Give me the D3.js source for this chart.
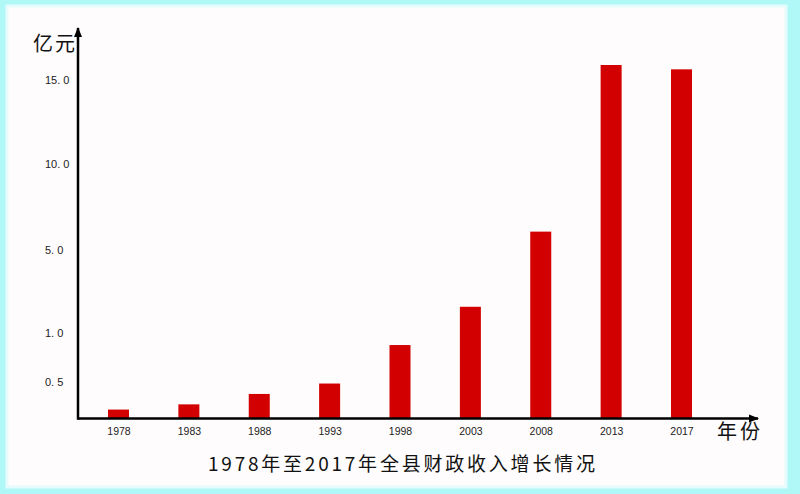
<!DOCTYPE html>
<html>
<head>
<meta charset="utf-8">
<script src="https://cdn.jsdelivr.net/npm/d3@7/dist/d3.min.js"></script>
<style>
  html, body { margin: 0; padding: 0; background: #b0f8f8; }
  svg { display: block; }
</style>
</head>
<body>
<svg id="chart" width="800" height="494"></svg>
<script>
// ---- data ----
const years = ["1978", "1983", "1988", "1993", "1998", "2003", "2008", "2013", "2017"];
const revenue = [0.12, 0.19, 0.33, 0.47, 0.87, 2.24, 6.06, 15.9, 15.64]; // 亿元
const yTickValues = [0.5, 1, 5, 10, 15];
const yTickLabels = ["0. 5", "1. 0", "5. 0", "10. 0", "15. 0"];
const yUnit = "亿元";
const xUnit = "年份";
const title = "1978年至2017年全县财政收入增长情况";

// ---- layout ----
const W = 800, H = 494;
const svg = d3.select("#chart");
const cjk = "'Noto Sans CJK SC', 'Noto Sans', sans-serif";
const latin = "'Liberation Sans', Arial, sans-serif";

// outer cyan frame + inner panel
svg.append("rect").attr("x", 0).attr("y", 0).attr("width", W).attr("height", H).attr("fill", "#b0f8f8");
svg.append("rect").attr("x", 7).attr("y", 6).attr("width", 779).attr("height", 481)
  .attr("fill", "#fefcfc").attr("stroke", "#e6fbfb").attr("stroke-width", 3);

const x0 = 78, baseY = 418.5;

// x: point scale over categories
const x = d3.scalePoint().domain(years).range([118.5, 681.5]);
const barW = 21;

// y: piecewise (non-uniform) axis as drawn in the original
const y = d3.scaleLinear()
  .domain([0, 0.5, 1, 5, 10, 15])
  .range([baseY, 381.3, 332.3, 250, 163.3, 80]);

const data = years.map((yr, i) => ({ year: yr, value: revenue[i] }));

// bars
svg.append("g").selectAll("rect").data(data).enter().append("rect")
  .attr("x", d => x(d.year) - barW / 2)
  .attr("y", d => y(d.value))
  .attr("width", barW)
  .attr("height", d => y(0) - y(d.value))
  .attr("fill", "#d20000");

// arrow marker
const defs = svg.append("defs");
defs.append("marker").attr("id", "arrow")
  .attr("viewBox", "0 0 10 10").attr("refX", 9).attr("refY", 5)
  .attr("markerWidth", 4).attr("markerHeight", 4).attr("orient", "auto")
  .attr("markerUnits", "strokeWidth")
  .append("path").attr("d", "M0,1 L10,5 L0,9 Z").attr("fill", "#000");

// y axis (labels left-aligned as in original)
const yAxis = d3.axisLeft(y).tickValues(yTickValues)
  .tickFormat((d, i) => yTickLabels[i]).tickSize(0);
const gy = svg.append("g").attr("transform", `translate(${x0},0)`).call(yAxis);
gy.select(".domain").remove();
gy.selectAll("text")
  .attr("x", 45 - x0).attr("dy", "0.35em")
  .attr("text-anchor", "start")
  .attr("fill", "#222").style("font-family", latin).style("font-size", "11px");

// x axis labels
const xAxis = d3.axisBottom(x).tickSize(0);
const gx = svg.append("g").attr("transform", `translate(0,${baseY})`).call(xAxis);
gx.select(".domain").remove();
gx.selectAll("text")
  .attr("y", 13).attr("dy", "0.35em")
  .attr("fill", "#222").style("font-family", latin).style("font-size", "10.5px");

// axis lines with arrows
svg.append("line").attr("x1", x0).attr("y1", baseY).attr("x2", 758).attr("y2", baseY)
  .attr("stroke", "#000").attr("stroke-width", 2.5).attr("marker-end", "url(#arrow)");
svg.append("line").attr("x1", x0).attr("y1", baseY + 1.2).attr("x2", x0).attr("y2", 28)
  .attr("stroke", "#000").attr("stroke-width", 2.5).attr("marker-end", "url(#arrow)");

// unit labels
svg.append("text").attr("x", 33).attr("y", 44).attr("dy", "0.35em")
  .attr("text-anchor", "start").attr("fill", "#111")
  .attr("textLength", 42).attr("lengthAdjust", "spacing")
  .style("font-family", cjk).style("font-size", "20px")
  .text(yUnit);
svg.append("text").attr("x", 717).attr("y", 432).attr("dy", "0.35em")
  .attr("text-anchor", "start").attr("fill", "#111")
  .attr("textLength", 43).attr("lengthAdjust", "spacing")
  .style("font-family", cjk).style("font-size", "20px")
  .text(xUnit);

// title
svg.append("text").attr("x", 208).attr("y", 464).attr("dy", "0.35em")
  .attr("text-anchor", "start").attr("fill", "#111")
  .attr("textLength", 387).attr("lengthAdjust", "spacing")
  .style("font-family", cjk).style("font-size", "19px")
  .text(title);
</script>
</body>
</html>
